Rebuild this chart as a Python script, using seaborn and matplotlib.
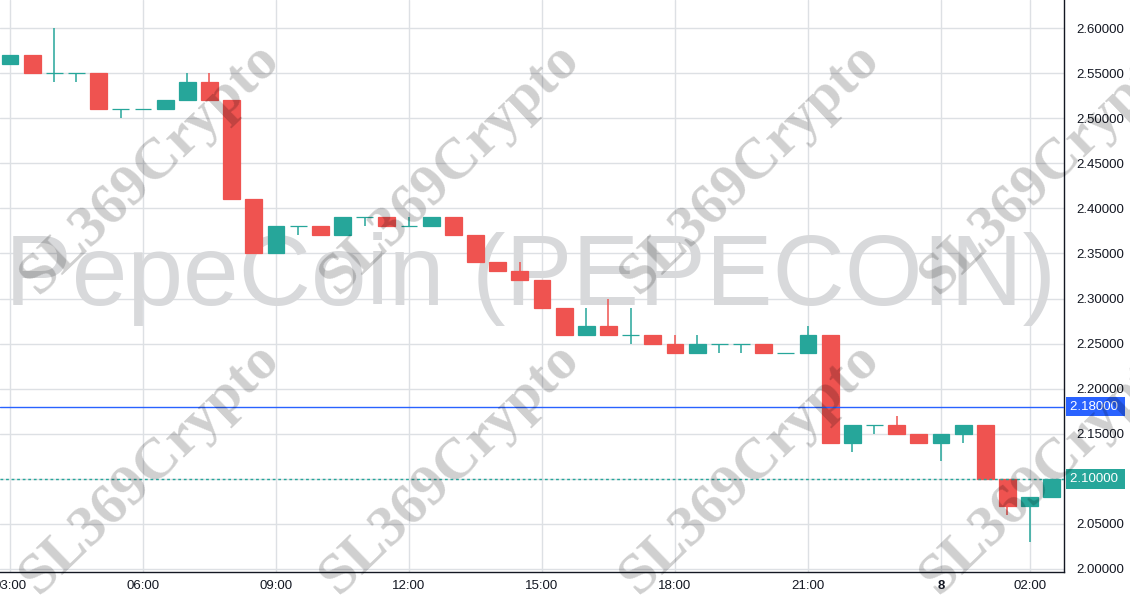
import numpy as np
import pandas as pd
import matplotlib
matplotlib.use("Agg")
import matplotlib.pyplot as plt
import matplotlib.transforms as mtransforms
import seaborn as sns

# ---------------- data (30-minute candles from 03:00 on day 7) ----------------
opens = [2.56, 2.57, 2.55, 2.55, 2.55, 2.51, 2.51, 2.51, 2.52, 2.54,
         2.52, 2.41, 2.35, 2.38, 2.38, 2.37, 2.39, 2.39, 2.38, 2.38,
         2.39, 2.37, 2.34, 2.33, 2.32, 2.29, 2.26, 2.27, 2.26, 2.26,
         2.25, 2.24, 2.25, 2.25, 2.25, 2.24, 2.24, 2.26, 2.14, 2.16,
         2.16, 2.15, 2.14, 2.15, 2.16, 2.10, 2.07, 2.08]
highs = [2.57, 2.57, 2.60, 2.55, 2.55, 2.51, 2.51, 2.52, 2.55, 2.55,
         2.52, 2.41, 2.38, 2.38, 2.38, 2.39, 2.39, 2.39, 2.39, 2.39,
         2.39, 2.37, 2.34, 2.34, 2.32, 2.29, 2.29, 2.30, 2.29, 2.26,
         2.26, 2.26, 2.25, 2.25, 2.25, 2.24, 2.27, 2.26, 2.16, 2.16,
         2.17, 2.15, 2.15, 2.16, 2.16, 2.10, 2.08, 2.10]
lows = [2.56, 2.55, 2.54, 2.54, 2.51, 2.50, 2.51, 2.51, 2.52, 2.52,
        2.41, 2.35, 2.35, 2.37, 2.37, 2.37, 2.38, 2.38, 2.38, 2.38,
        2.37, 2.34, 2.33, 2.32, 2.29, 2.26, 2.26, 2.26, 2.25, 2.25,
        2.24, 2.24, 2.24, 2.24, 2.24, 2.24, 2.24, 2.14, 2.13, 2.15,
        2.15, 2.14, 2.12, 2.14, 2.10, 2.06, 2.03, 2.08]
closes = [2.57, 2.55, 2.55, 2.55, 2.51, 2.51, 2.51, 2.52, 2.54, 2.52,
          2.41, 2.35, 2.38, 2.38, 2.37, 2.39, 2.39, 2.38, 2.38, 2.39,
          2.37, 2.34, 2.33, 2.32, 2.29, 2.26, 2.27, 2.26, 2.26, 2.25,
          2.24, 2.25, 2.25, 2.25, 2.24, 2.24, 2.26, 2.14, 2.16, 2.16,
          2.15, 2.14, 2.15, 2.16, 2.10, 2.07, 2.08, 2.10]

x_tick_hours = [0, 3, 6, 9, 12, 15, 18, 21, 23]
x_tick_labels = ["03:00", "06:00", "09:00", "12:00", "15:00", "18:00", "21:00", "8", "02:00"]
y_ticks = [2.00, 2.05, 2.10, 2.15, 2.20, 2.25, 2.30, 2.35, 2.40, 2.45, 2.50, 2.55, 2.60]
alert_price = 2.18
last_price = 2.10
title_text = "PepeCoin (PEPECOIN)"
watermark = "SL369Crypto"

# ---------------- frame ----------------
df = pd.DataFrame({"open": opens, "high": highs, "low": lows, "close": closes})
df["t"] = np.arange(len(df)) * 0.5  # hours since 03:00
up = df["close"] >= df["open"]
GREEN, RED = "#26a69a", "#ef5350"
df["color"] = np.where(up, GREEN, RED)

sns.set_style("white")
plt.rcParams["font.family"] = ["Liberation Sans", "DejaVu Sans"]

W, H = 1130, 600
fig = plt.figure(figsize=(W / 100, H / 100), dpi=100)
ax = fig.add_axes([0, 28 / H, 1064 / W, 572 / H])

# big background title
ax.text(0.499, (572 - 305) / 572, title_text, transform=ax.transAxes,
        ha="center", va="baseline", fontsize=72, color="#d8d9db", zorder=1.5)

# grid
ax.set_axisbelow(True)
ax.grid(True, color="#dde0e4", linewidth=1)

# wicks
ax.vlines(df["t"], df["low"], df["high"], colors=df["color"], linewidth=1.1, zorder=3)
# bodies
bottoms = np.minimum(df["open"], df["close"])
heights = np.abs(df["close"] - df["open"])
ax.bar(df["t"], heights, bottom=bottoms, width=0.38, color=df["color"],
       edgecolor=df["color"], linewidth=0.9, zorder=4)

# price lines
ax.axhline(alert_price, color="#2962ff", linewidth=1, zorder=5)
ax.axhline(last_price, color=GREEN, linewidth=1, linestyle=(0, (2, 2)), zorder=5)

ax.set_xlim(-0.2256, 23.776)
ax.set_ylim(1.99667, 2.6311)

ax.set_xticks(x_tick_hours)
ax.set_xticklabels(x_tick_labels)
for lbl in ax.get_xticklabels():
    if lbl.get_text() == "8":
        lbl.set_fontweight("bold")
ax.yaxis.tick_right()
ax.set_yticks(y_ticks)
# the last-price box carries the 2.10000 label itself
ax.set_yticklabels(["" if abs(v - last_price) < 1e-9 else f"{v:.5f}" for v in y_ticks])
ax.tick_params(axis="both", length=0, labelsize=9.5, colors="#131722")
ax.tick_params(axis="y", pad=9)
ax.tick_params(axis="x", pad=6)

for s in ["top", "left"]:
    ax.spines[s].set_visible(False)
for s in ["right", "bottom"]:
    ax.spines[s].set_visible(True)
    ax.spines[s].set_color("#131722")
    ax.spines[s].set_linewidth(1)

# price label boxes
trans = mtransforms.blended_transform_factory(ax.transAxes, ax.transData)
for price, col in [(alert_price, "#2962ff"), (last_price, GREEN)]:
    ax.text(1.0 + 6 / 1064, price, f"{price:.5f} ", transform=trans, ha="left",
            va="center", fontsize=9.5, color="white", clip_on=False, zorder=6,
            bbox=dict(boxstyle="square,pad=0.28", facecolor=col, edgecolor="none"))

# diagonal watermarks
for cy in [168, 468]:
    for cx in [150, 450, 750, 1050]:
        fig.text(cx / W, 1 - cy / H, watermark, ha="center", va="center",
                 rotation=44, rotation_mode="anchor", fontsize=42,
                 fontweight="bold", family=["Liberation Serif", "DejaVu Serif"],
                 color="black", alpha=0.19, zorder=10)

fig.savefig("out.png", dpi=100)
